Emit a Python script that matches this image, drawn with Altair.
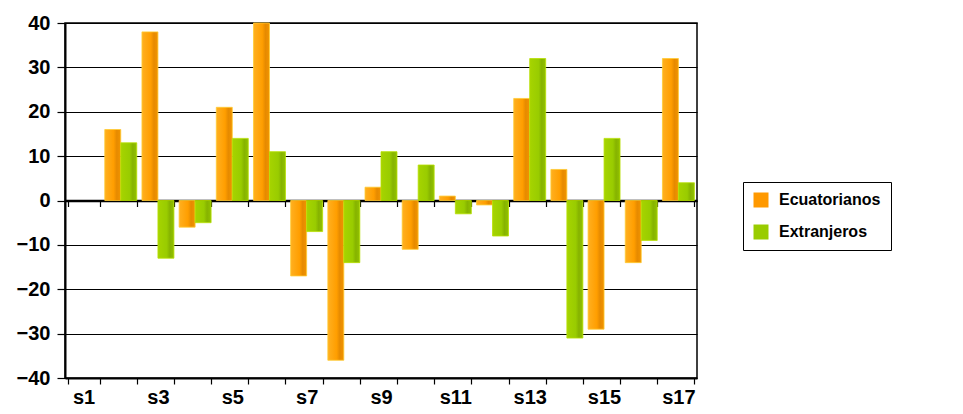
import altair as alt
import pandas as pd

categories = [f"s{i}" for i in range(1, 18)]
series_names = ["Ecuatorianos", "Extranjeros"]
ecuatorianos = [None, 16, 38, -6, 21, 40, -17, -36, 3, -11, 1, -1, 23, 7, -29, -14, 32]
extranjeros = [None, 13, -13, -5, 14, 11, -7, -14, 11, 8, -3, -8, 32, -31, 14, -9, 4]
y_ticks = [-40, -30, -20, -10, 0, 10, 20, 30, 40]
odd_labels = [c for i, c in enumerate(categories) if i % 2 == 0]

rows = []
for cat, e, x in zip(categories, ecuatorianos, extranjeros):
    if e is not None:
        rows.append({"cat": cat, "series": series_names[0], "value": e})
    if x is not None:
        rows.append({"cat": cat, "series": series_names[1], "value": x})
df = pd.DataFrame(rows)

FONT = "Liberation Sans"
W, H = 632, 355

grad_orange = {"gradient": "linear", "x1": 0, "x2": 1, "y1": 0, "y2": 0,
               "stops": [{"offset": 0, "color": "#FFB020"},
                         {"offset": 0.55, "color": "#FF9E00"},
                         {"offset": 0.75, "color": "#E68A00"},
                         {"offset": 1, "color": "#F29400"}]}
grad_green = {"gradient": "linear", "x1": 0, "x2": 1, "y1": 0, "y2": 0,
              "stops": [{"offset": 0, "color": "#A6D400"},
                        {"offset": 0.55, "color": "#99CC00"},
                        {"offset": 0.75, "color": "#86B300"},
                        {"offset": 1, "color": "#92C200"}]}

x_scale = alt.Scale(domain=categories, paddingInner=0.14, paddingOuter=0.07)
label_expr = "indexof(" + str(odd_labels).replace("'", "\"") + ", datum.value) >= 0 ? datum.value : ''"

bars = alt.Chart(df).mark_bar(strokeWidth=0.8).encode(
    x=alt.X("cat:N", scale=x_scale, title=None,
            axis=alt.Axis(tickBand="extent", tickSize=6, tickColor="black", tickWidth=1.2,
                          domainColor="black", domainWidth=2, labelAngle=0,
                          labelExpr=label_expr, labelFont=FONT, labelFontSize=20,
                          labelFontWeight="bold", labelColor="black", labelPadding=3,
                          grid=False)),
    xOffset=alt.XOffset("series:N", scale=alt.Scale(domain=series_names)),
    y=alt.Y("value:Q", scale=alt.Scale(domain=[-40, 40], nice=False), title=None,
            axis=alt.Axis(values=y_ticks, tickSize=8, tickColor="black", tickWidth=1.2,
                          domainColor="black", domainWidth=2, labelFont=FONT,
                          labelFontSize=20, labelFontWeight="bold", labelColor="black",
                          labelPadding=7, grid=True, gridColor="black", gridWidth=1,
                          gridOpacity=1)),
    fill=alt.condition(alt.datum.series == "Ecuatorianos", alt.value(grad_orange), alt.value(grad_green)),
    stroke=alt.condition(alt.datum.series == "Ecuatorianos", alt.value("#FFCC33"), alt.value("#B8E000")),
)

zero_axis = alt.Chart(df).mark_square(opacity=0, filled=True).encode(
    x=alt.X("cat:N", scale=x_scale, title=None,
            axis=alt.Axis(orient="bottom", offset=-H / 2, labels=False, tickBand="extent",
                          tickSize=6, tickColor="black", tickWidth=1.2, domainColor="black",
                          domainWidth=2.5, grid=False)),
    y=alt.value(0),
    color=alt.Color("series:N", scale=alt.Scale(domain=series_names, range=["#FF9900", "#99CC00"]),
                    legend=alt.Legend(title=None, orient="none", legendX=678, legendY=159,
                                      strokeColor="black", fillColor="white", padding=10,
                                      labelFont=FONT, labelFontSize=16, labelFontWeight="bold",
                                      labelColor="black", symbolType="square", symbolSize=225,
                                      symbolOpacity=1, symbolStrokeWidth=0, rowPadding=16,
                                      labelOffset=10)),
)

chart = alt.layer(bars, zero_axis).resolve_axis(x="independent").properties(
    width=W, height=H,
    autosize=alt.AutoSizeParams(type="none"),
    padding={"left": 57, "top": 15, "right": 255, "bottom": 28},
).configure_view(stroke="black", strokeWidth=1.5)

chart.save("out.html", embed_options={"renderer": "svg", "actions": False})
